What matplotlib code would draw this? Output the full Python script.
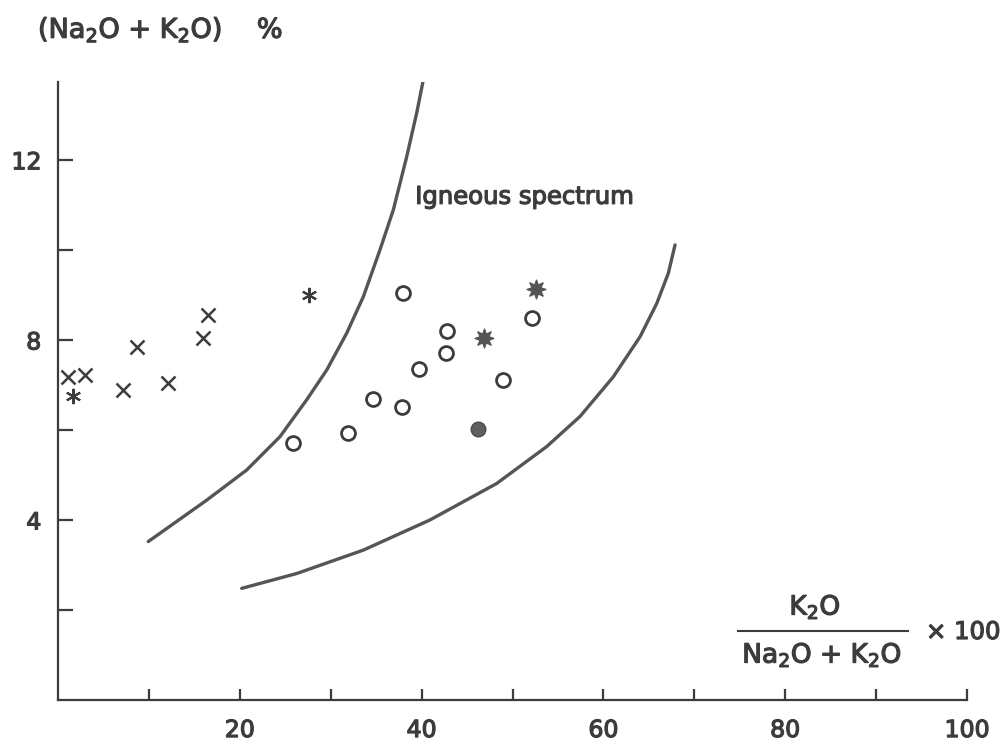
import matplotlib
matplotlib.use("Agg")
import matplotlib.pyplot as plt
from matplotlib.lines import Line2D
import matplotlib.patheffects as pe

# ---- data ----
cross_x = [1.1, 3.0, 7.1, 8.7, 12.1, 15.9, 16.5]
cross_y = [7.17, 7.21, 6.89, 7.85, 7.04, 8.04, 8.56]

aster_x = [1.7, 27.6]
aster_y = [6.76, 9.0]

open_x = [25.8, 31.9, 34.7, 37.8, 38.0, 39.7, 42.7, 42.8, 49.0, 52.2]
open_y = [5.72, 5.93, 6.68, 6.52, 9.04, 7.35, 7.70, 8.19, 7.10, 8.48]

star_x = [46.9, 52.6]
star_y = [8.04, 9.13]

filled_x = [46.2]
filled_y = [6.02]

curve1_x = [9.93, 16.36, 20.76, 24.42, 27.36, 29.56, 31.76, 33.59, 35.42,
            36.89, 38.36, 39.46, 40.19]
curve1_y = [3.52, 4.44, 5.11, 5.85, 6.67, 7.33, 8.15, 8.96, 10.0,
            10.89, 12.07, 13.04, 13.78]

curve2_x = [20.21, 26.26, 33.59, 40.92, 48.26, 53.76, 57.43, 61.09, 64.03,
            65.87, 67.14, 67.88]
curve2_y = [2.48, 2.81, 3.33, 4.00, 4.81, 5.63, 6.30, 7.18, 8.07,
            8.81, 9.48, 10.11]

x_ticks = [10, 20, 30, 40, 50, 60, 70, 80, 90, 100]
x_labels = ["", "20", "", "40", "", "60", "", "80", "", "100"]
y_ticks = [2, 4, 6, 8, 10, 12]
y_labels = ["", "4", "", "8", "", "12"]

ink = "#3c3c3c"
line_c = "#555555"
bold = [pe.withStroke(linewidth=0.9, foreground=ink)]

plt.rcParams['font.family'] = ['DejaVu Sans']

fig = plt.figure(figsize=(10.05, 7.42), dpi=100)
W, H = 1005, 742
ax = fig.add_axes([58 / W, (H - 700) / H, 909 / W, 618 / H])
ax.set_xlim(0, 100)
ax.set_ylim(0, 13.73)

for s in ("top", "right"):
    ax.spines[s].set_visible(False)
for s in ("left", "bottom"):
    ax.spines[s].set_color(ink)
    ax.spines[s].set_linewidth(1.6)

ax.set_xticks(x_ticks)
ax.set_xticklabels(x_labels)
ax.set_yticks(y_ticks)
ax.set_yticklabels(y_labels)
ax.tick_params(axis="x", direction="in", length=8, width=1.6, color=ink,
               labelsize=17, labelcolor=ink, pad=13)
ax.tick_params(axis="y", direction="in", length=11, width=1.6, color=ink,
               labelsize=17, labelcolor=ink, pad=12)
for lab in ax.get_xticklabels() + ax.get_yticklabels():
    lab.set_path_effects(bold)

# curves
ax.plot(curve1_x, curve1_y, color=line_c, lw=2.4, solid_capstyle="round",
        solid_joinstyle="round")
ax.plot(curve2_x, curve2_y, color=line_c, lw=2.4, solid_capstyle="round",
        solid_joinstyle="round")

# markers
ax.plot(cross_x, cross_y, ls="none", marker="x", ms=10, mew=1.8, color=ink)
ax.plot(aster_x, aster_y, ls="none", marker=(6, 2, 0), ms=11, mew=1.5, color=ink)
ax.plot(open_x, open_y, ls="none", marker="o", ms=10, mew=2.0,
        mfc="white", mec=ink)
ax.plot(star_x, star_y, ls="none", marker=(8, 1, 0), ms=14, mew=0.8,
        mfc="#555555", mec="#555555")
ax.plot(filled_x, filled_y, ls="none", marker="o", ms=10.5, mew=1.0,
        mfc="#5e625e", mec="#4a4a4a")

ax.text(39.3, 11.18, "Igneous spectrum", fontsize=17.5, color=ink,
        ha="left", va="center", path_effects=bold)

# y axis title
fig.text(38 / W, 1 - 30 / H, r"(Na$_2$O + K$_2$O)    %", fontsize=19.5,
         color=ink, ha="left", va="center", path_effects=bold)

# x axis title as a fraction
fig.text(815 / W, 1 - 607 / H, r"K$_2$O", fontsize=19, color=ink,
         ha="center", va="center", path_effects=bold)
fig.text(822 / W, 1 - 655 / H, r"Na$_2$O + K$_2$O", fontsize=19, color=ink,
         ha="center", va="center", path_effects=bold)
fig.add_artist(Line2D([738 / W, 908 / W], [1 - 631 / H, 1 - 631 / H],
                      transform=fig.transFigure, color=ink, lw=1.5))
fig.text(926 / W, 1 - 632 / H, "× 100", fontsize=17.5, color=ink,
         ha="left", va="center", path_effects=bold)

fig.savefig("out.png", dpi=100, facecolor="white")
